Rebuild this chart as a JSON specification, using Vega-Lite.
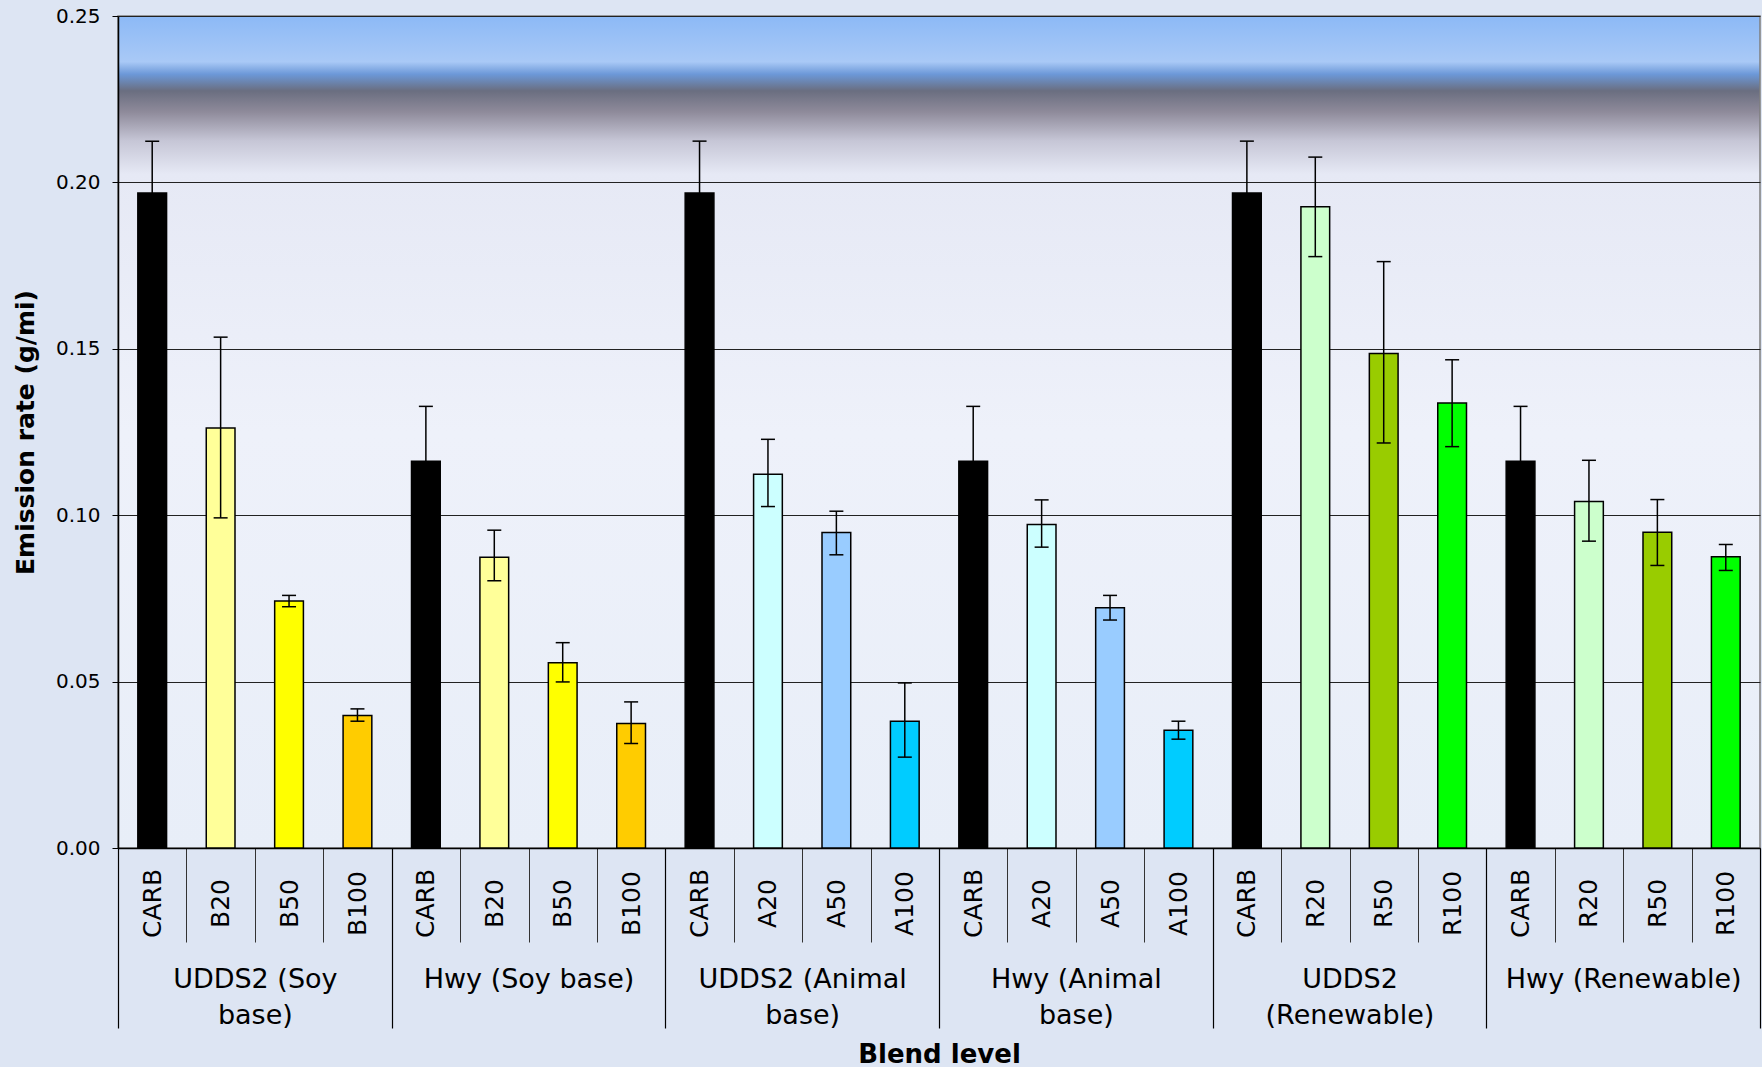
{
  "$schema": "https://vega.github.io/schema/vega-lite/v6.json",
  "width": 1642,
  "height": 832,
  "autosize": {"type": "none"},
  "padding": {"left": 118, "top": 16, "right": 2, "bottom": 219},
  "background": "#dde5f3",
  "data": {
    "values": [
      {"group": "UDDS2 (Soy base)", "id": "g1|CARB", "blend": "CARB", "value": 0.1968, "lo": 0.1812, "hi": 0.2124},
      {"group": "UDDS2 (Soy base)", "id": "g1|B20", "blend": "B20", "value": 0.1262, "lo": 0.0992, "hi": 0.1535},
      {"group": "UDDS2 (Soy base)", "id": "g1|B50", "blend": "B50", "value": 0.0742, "lo": 0.0725, "hi": 0.0759},
      {"group": "UDDS2 (Soy base)", "id": "g1|B100", "blend": "B100", "value": 0.0398, "lo": 0.0381, "hi": 0.0418},
      {"group": "Hwy (Soy base)", "id": "g2|CARB", "blend": "CARB", "value": 0.1162, "lo": 0.0997, "hi": 0.1327},
      {"group": "Hwy (Soy base)", "id": "g2|B20", "blend": "B20", "value": 0.0874, "lo": 0.0803, "hi": 0.0955},
      {"group": "Hwy (Soy base)", "id": "g2|B50", "blend": "B50", "value": 0.0557, "lo": 0.0499, "hi": 0.0617},
      {"group": "Hwy (Soy base)", "id": "g2|B100", "blend": "B100", "value": 0.0374, "lo": 0.0314, "hi": 0.0439},
      {"group": "UDDS2 (Animal base)", "id": "g3|CARB", "blend": "CARB", "value": 0.1968, "lo": 0.1812, "hi": 0.2124},
      {"group": "UDDS2 (Animal base)", "id": "g3|A20", "blend": "A20", "value": 0.1123, "lo": 0.1026, "hi": 0.1228},
      {"group": "UDDS2 (Animal base)", "id": "g3|A50", "blend": "A50", "value": 0.0948, "lo": 0.0881, "hi": 0.1012},
      {"group": "UDDS2 (Animal base)", "id": "g3|A100", "blend": "A100", "value": 0.0381, "lo": 0.0273, "hi": 0.0496},
      {"group": "Hwy (Animal base)", "id": "g4|CARB", "blend": "CARB", "value": 0.1162, "lo": 0.0997, "hi": 0.1327},
      {"group": "Hwy (Animal base)", "id": "g4|A20", "blend": "A20", "value": 0.0972, "lo": 0.0904, "hi": 0.1046},
      {"group": "Hwy (Animal base)", "id": "g4|A50", "blend": "A50", "value": 0.0722, "lo": 0.0685, "hi": 0.0759},
      {"group": "Hwy (Animal base)", "id": "g4|A100", "blend": "A100", "value": 0.0354, "lo": 0.0327, "hi": 0.0381},
      {"group": "UDDS2 (Renewable)", "id": "g5|CARB", "blend": "CARB", "value": 0.1968, "lo": 0.1812, "hi": 0.2124},
      {"group": "UDDS2 (Renewable)", "id": "g5|R20", "blend": "R20", "value": 0.1927, "lo": 0.1777, "hi": 0.2076},
      {"group": "UDDS2 (Renewable)", "id": "g5|R50", "blend": "R50", "value": 0.1486, "lo": 0.1217, "hi": 0.1762},
      {"group": "UDDS2 (Renewable)", "id": "g5|R100", "blend": "R100", "value": 0.1337, "lo": 0.1206, "hi": 0.1467},
      {"group": "Hwy (Renewable)", "id": "g6|CARB", "blend": "CARB", "value": 0.1162, "lo": 0.0997, "hi": 0.1327},
      {"group": "Hwy (Renewable)", "id": "g6|R20", "blend": "R20", "value": 0.1041, "lo": 0.0922, "hi": 0.1165},
      {"group": "Hwy (Renewable)", "id": "g6|R50", "blend": "R50", "value": 0.0949, "lo": 0.0849, "hi": 0.1047},
      {"group": "Hwy (Renewable)", "id": "g6|R100", "blend": "R100", "value": 0.0875, "lo": 0.0834, "hi": 0.0912}
    ]
  },
  "layer": [
    {
      "encoding": {
        "x": {
          "field": "id",
          "type": "nominal",
          "sort": null,
          "scale": {"paddingInner": 0, "paddingOuter": 0},
          "axis": {
            "orient": "bottom",
            "title": null,
            "tickBand": "extent",
            "tickSize": 94,
            "tickColor": "#333333",
            "tickWidth": 1,
            "domainColor": "#000000",
            "domainWidth": 1.5,
            "labelAngle": 270,
            "labelAlign": "center",
            "labelBaseline": "middle",
            "labelPadding": -39,
            "labelFont": "DejaVu Sans",
            "labelFontSize": 25,
            "labelColor": "#000000",
            "labelLimit": 0,
            "labelExpr": "split(datum.value, '|')[1]",
            "labelOverlap": false,
            "labelBound": false,
            "labelFlush": false,
            "grid": false
          }
        }
      },
      "layer": [
        {
          "mark": {"type": "bar", "width": {"band": 0.42}, "stroke": "#000000", "strokeWidth": 1.5},
          "encoding": {
            "y": {
              "field": "value",
              "type": "quantitative",
              "title": "Emission rate (g/mi)",
              "scale": {"domain": [0, 0.25], "nice": false, "zero": true},
              "axis": {
                "values": [0, 0.05, 0.1, 0.15, 0.2, 0.25],
                "format": ".2f",
                "title": "Emission rate (g/mi)",
                "labelFont": "DejaVu Sans",
                "labelFontSize": 20,
                "labelColor": "#000000",
                "labelPadding": 12,
                "tickSize": 6,
                "tickColor": "#000000",
                "domainColor": "#000000",
                "domainWidth": 1.5,
                "grid": true,
                "gridColor": "#222222",
                "gridWidth": 1,
                "titleFont": "DejaVu Sans",
                "titleFontSize": 25,
                "titleFontWeight": "bold",
                "titleColor": "#000000",
                "titleAngle": 270,
                "titleAlign": "center",
                "titleBaseline": "middle",
                "titleLimit": 0,
                "titleX": -93,
                "titleY": 416
              }
            },
            "color": {
              "field": "blend",
              "type": "nominal",
              "legend": null,
              "scale": {
                "domain": ["CARB", "B20", "B50", "B100", "A20", "A50", "A100", "R20", "R50", "R100"],
                "range": ["#000000", "#FFFF99", "#FFFF00", "#FFCC00", "#CCFFFF", "#99CCFF", "#00CCFF", "#CCFFCC", "#99CC00", "#00FF00"]
              }
            }
          }
        },
        {
          "mark": {"type": "rule", "color": "#000000", "strokeWidth": 1.5},
          "encoding": {
            "y": {"field": "lo", "type": "quantitative", "title": "Emission rate (g/mi)"},
            "y2": {"field": "hi"}
          }
        },
        {
          "mark": {"type": "tick", "color": "#000000", "size": 14, "thickness": 1.5, "orient": "horizontal", "opacity": 1},
          "encoding": {
            "y": {"field": "hi", "type": "quantitative", "title": "Emission rate (g/mi)"}
          }
        },
        {
          "mark": {"type": "tick", "color": "#000000", "size": 14, "thickness": 1.5, "orient": "horizontal", "opacity": 1},
          "encoding": {
            "y": {"field": "lo", "type": "quantitative", "title": "Emission rate (g/mi)"}
          }
        }
      ]
    },
    {
      "mark": {"type": "point", "opacity": 0},
      "encoding": {
        "x": {
          "field": "group",
          "type": "nominal",
          "sort": null,
          "scale": {"paddingInner": 0, "paddingOuter": 0},
          "axis": {
            "orient": "bottom",
            "title": "Blend level",
            "titleFont": "DejaVu Sans",
            "titleFontSize": 26,
            "titleFontWeight": "bold",
            "titleColor": "#000000",
            "titleAlign": "center",
            "titleBaseline": "middle",
            "titleLimit": 0,
            "titleX": 821,
            "titleY": 206,
            "domain": false,
            "grid": false,
            "tickBand": "extent",
            "tickSize": 180,
            "tickColor": "#000000",
            "tickWidth": 1.2,
            "labelAngle": 0,
            "labelAlign": "center",
            "labelBaseline": "top",
            "labelPadding": -62,
            "labelLineHeight": 36,
            "labelFont": "DejaVu Sans",
            "labelFontSize": 27,
            "labelColor": "#000000",
            "labelLimit": 0,
            "labelOverlap": false,
            "labelBound": false,
            "labelFlush": false,
            "labelExpr": "datum.value == 'UDDS2 (Soy base)' ? ['UDDS2 (Soy', 'base)'] : datum.value == 'UDDS2 (Animal base)' ? ['UDDS2 (Animal', 'base)'] : datum.value == 'Hwy (Animal base)' ? ['Hwy (Animal', 'base)'] : datum.value == 'UDDS2 (Renewable)' ? ['UDDS2', '(Renewable)'] : datum.value"
          }
        }
      }
    }
  ],
  "resolve": {"scale": {"x": "independent"}},
  "config": {
    "font": "DejaVu Sans",
    "view": {
      "stroke": "#7f7f7f",
      "strokeWidth": 1.5,
      "fill": {
        "gradient": "linear",
        "x1": 0, "y1": 0, "x2": 0, "y2": 1,
        "stops": [
          {"offset": 0, "color": "#8cb9f6"},
          {"offset": 0.055, "color": "#a9c9f6"},
          {"offset": 0.07, "color": "#6c98d8"},
          {"offset": 0.09, "color": "#6a6e80"},
          {"offset": 0.115, "color": "#8e8a9a"},
          {"offset": 0.15, "color": "#c6c6d6"},
          {"offset": 0.19, "color": "#e6e9f5"},
          {"offset": 0.5, "color": "#eef1fa"},
          {"offset": 1, "color": "#e8eef8"}
        ]
      }
    }
  }
}
